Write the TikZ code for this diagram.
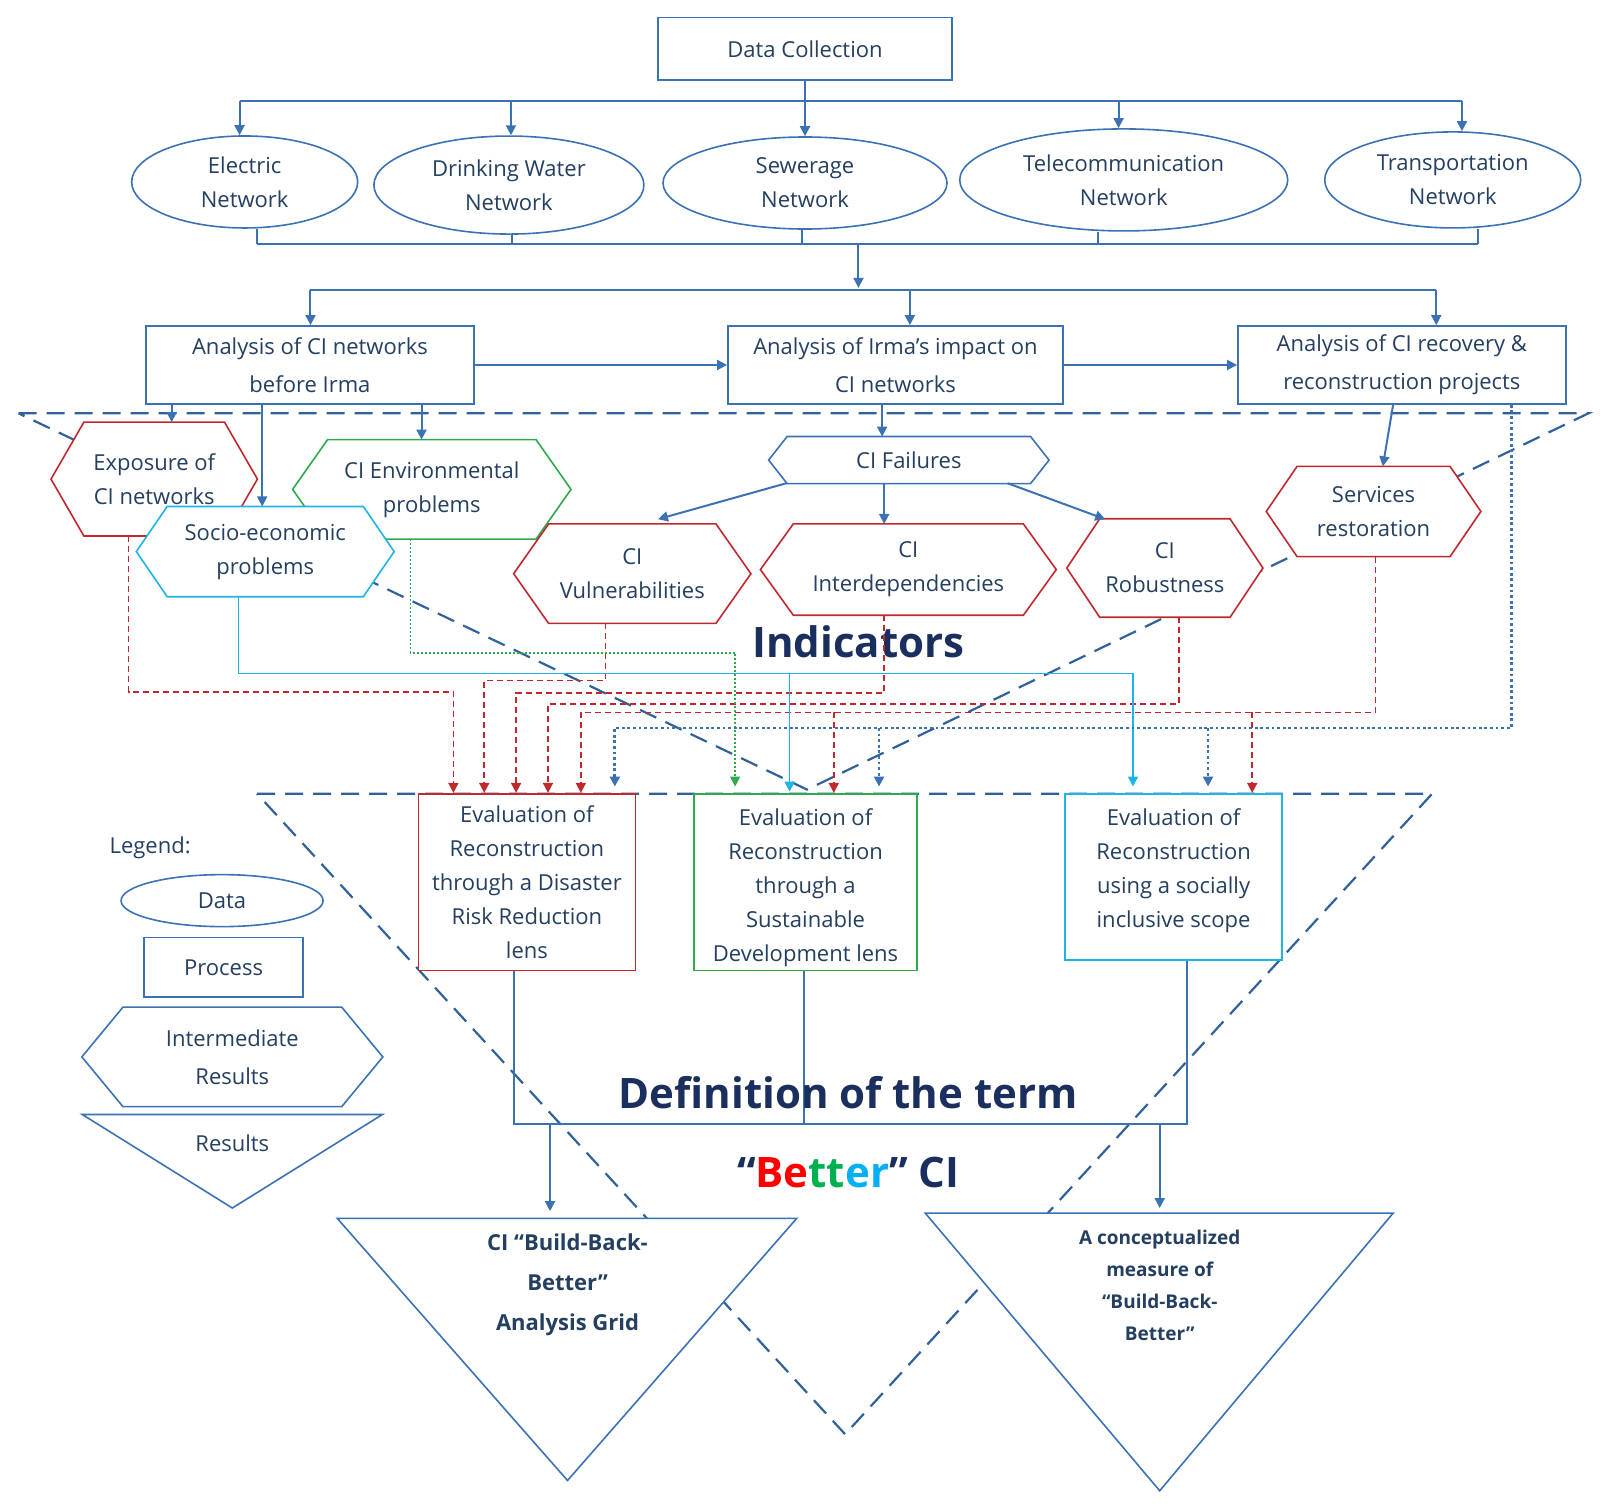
\documentclass[tikz,border=0pt]{standalone}
\usepackage{fontspec}
\setmainfont{Open Sans}
\usetikzlibrary{arrows.meta,calc,fit,shapes.geometric}
\definecolor{bl}{HTML}{3A72B4}
\definecolor{tx}{HTML}{243F60}
\definecolor{nv}{HTML}{1B2F5E}
\definecolor{rd}{HTML}{C0282D}
\definecolor{gn}{HTML}{2EAA4A}
\definecolor{cy}{HTML}{1EB4E6}
\definecolor{brd}{HTML}{FF0000}
\definecolor{bgn}{HTML}{00B050}
\definecolor{bcy}{HTML}{00B0F0}
\newcommand\hexa[3]{\draw[#2,line width=0.8pt,fill=white] (#1.west) -- ($(#1.north west)+(#3,0)$) -- ($(#1.north east)+(-#3,0)$) -- (#1.east) -- ($(#1.south east)+(-#3,0)$) -- ($(#1.south west)+(#3,0)$) -- cycle;}
\begin{document}
\begin{tikzpicture}[x=0.514pt,y=-0.514pt,
  every node/.style={text=tx,font=\fontsize{11}{17}\selectfont,align=center},
  two/.style={font=\fontsize{11}{19}\selectfont},
  box/.style={draw=bl,line width=0.8pt,fill=white,inner sep=0pt},
  ell/.style={ellipse,draw=bl,line width=0.8pt,fill=white,inner sep=0pt},
  hx/.style={inner sep=0pt},
  ln/.style={draw=bl,line width=1pt},
  ar/.style={ln,-{Triangle[length=5pt,width=5pt]}},
  rdash/.style={draw=rd,line width=0.8pt,dash pattern=on 3pt off 2pt,-{Triangle[length=5pt,width=5pt]}},
  bdot/.style={draw=bl,line width=1.4pt,dash pattern=on 1.4pt off 1.4pt,-{Triangle[length=5pt,width=5pt]}},
  big/.style={draw=bl!85!black,line width=1.1pt,dash pattern=on 9pt off 5pt},
  bigt/.style={font=\fontsize{21}{24}\selectfont\bfseries,text=nv}]
\useasboundingbox (0,0) rectangle (1565,1467);
% dashed triangles
\draw[big] (250,772) -- (1393,772) -- (822,1395) -- cycle;
\draw[big] (18,402) -- (1545,402) -- (785,768) -- cycle;
% top
\node[box,fit={(640,17)(926,78)}] (dc) {};
\node at (dc.center) {Data Collection};
\node[ell,minimum width=113pt,minimum height=46pt] (e1) at (238,177) {Electric\\Network};
\node[ell,minimum width=135pt,minimum height=49pt] (e2) at (495,180) {Drinking Water\\Network};
\node[ell,minimum width=142pt,minimum height=46pt] (e3) at (783,178) {Sewerage\\Network};
\node[ell,minimum width=164pt,minimum height=51pt] (e4) at (1093,175) {Telecommunication\\Network};
\node[ell,minimum width=128pt,minimum height=48pt] (e5) at (1413,175) {Transportation\\Network};
\coordinate (t0) at (783,98);
\draw[ln] (dc.south) -- (t0);
\draw[ln] (233,98) -- (1422,98);
\foreach \x/\n in {233/e1,497/e2,783/e3,1088/e4,1422/e5} \draw[ar] (\x,98) -- (\x,0 |- \n.north);
\foreach \x/\n in {250/e1,498/e2,780/e3,1068/e4,1438/e5} \draw[ln] (\x,0 |- \n.south) -- (\x,237);
\draw[ln] (250,237) -- (1438,237);
\draw[ar] (835,237) -- (835,280);
\draw[ln] (302,282) -- (1397,282);
% analysis
\node[box,fit={(142,317)(461,393)}] (a1) {};
\node[two] at (a1.center) {Analysis of CI networks\\before Irma};
\node[box,fit={(708,317)(1034,393)}] (a2) {};
\node[two] at (a2.center) {Analysis of Irma’s impact on\\CI networks};
\node[box,fit={(1204,317)(1523,393)}] (a3) {};
\node[two] at (a3.center) {Analysis of CI recovery \&\\reconstruction projects};
\draw[ar] (302,282) -- (a1.north -| 302,0);
\draw[ar] (885,282) -- (a2.north -| 885,0);
\draw[ar] (1397,282) -- (a3.north -| 1397,0);
\draw[ar] (a1.east) -- (a2.west);
\draw[ar] (a2.east) -- (a3.west);
% hexagons
\node[hx,fit={(50,411)(250,521)}] (ex) {};
\hexa{ex}{rd}{32}
\node at (ex) {Exposure of\\CI networks};
\node[hx,fit={(285,428)(555,524)}] (env) {};
\hexa{env}{gn}{34}
\node at (env) {CI Environmental\\problems};
\node[hx,fit={(133,493)(383,580)}] (soc) {};
\hexa{soc}{cy}{30}
\node at (soc) {Socio-economic\\problems};
\node[hx,fit={(748,425)(1020,470)}] (fail) {};
\hexa{fail}{bl}{18}
\node at (fail) {CI Failures};
\node[hx,fit={(500,510)(730,606)}] (vul) {};
\hexa{vul}{rd}{34}
\node at (vul) {CI\\Vulnerabilities};
\node[hx,fit={(740,510)(1027,598)}] (int) {};
\hexa{int}{rd}{32}
\node at (int) {CI\\Interdependencies};
\node[hx,fit={(1038,505)(1228,600)}] (rob) {};
\hexa{rob}{rd}{32}
\node at (rob) {CI\\Robustness};
\node[hx,fit={(1232,454)(1440,541)}] (ser) {};
\hexa{ser}{rd}{30}
\node at (ser) {Services\\restoration};
\draw[ar] (a1.south -| 167,0) -- (ex.north -| 167,0);
\draw[ar] (a1.south -| 255,0) -- (soc.north -| 255,0);
\draw[ar] (a1.south -| 410,0) -- (env.north -| 410,0);
\draw[ar] (a2.south -| 858,0) -- (fail.north -| 858,0);
\draw[ar] (a3.south -| 1355,0) -- (ser.north -| 1345,0);
\draw[ar] (765,470) -- (640,505);
\draw[ar] (fail.south -| 860,0) -- (int.north -| 860,0);
\draw[ar] (980,470) -- (1075,505);
\node[bigt] (ind) at (835,624) {Indicators};
% evaluation boxes
\node[box,draw=rd,fit={(407,772)(618,944)}] (ev1) {};
\node at (ev1.center) {Evaluation of\\Reconstruction\\through a Disaster\\Risk Reduction\\lens};
\node[box,draw=gn,fit={(675,772)(892,944)}] (ev2) {};
\node at ([yshift=-3pt]ev2.center) {Evaluation of\\Reconstruction\\through a\\Sustainable\\Development lens};
\node[box,draw=cy,fit={(1036,772)(1247,934)}] (ev3) {};
\node at ([yshift=3pt]ev3.center) {Evaluation of\\Reconstruction\\using a socially\\inclusive scope};
% connectors to evaluation
\draw[rdash] (ex.south -| 125,0) |- (441,673) -- (ev1.north -| 441,0);
\draw[rdash] (vul.south -| 589,0) |- (471,662) -- (ev1.north -| 471,0);
\draw[rdash] (int.south -| 860,0) |- (502,674) -- (ev1.north -| 502,0);
\draw[rdash] (rob.south -| 1147,0) |- (533,685) -- (ev1.north -| 533,0);
\draw[rdash] (ser.south -| 1338,0) |- (565,693) -- (ev1.north -| 565,0);
\draw[rdash] (811,693) -- (ev2.north -| 811,0);
\draw[rdash] (1218,693) -- (ev3.north -| 1218,0);
\draw[draw=cy,line width=0.8pt,-{Triangle[length=5pt,width=5pt]}] (soc.south -| 232,0) |- (1102,655) -- (1102,765);
\draw[draw=cy,line width=0.8pt,-{Triangle[length=5pt,width=5pt]}] (768,655) -- (768,770);
\draw[draw=gn,line width=0.7pt,dash pattern=on 1pt off 1pt,-{Triangle[length=5pt,width=5pt]}] (env.south -| 399,0) |- (715,635) -- (715,765);
\draw[bdot] (a3.south -| 1470,0) |- (598,708) -- (598,765);
\draw[bdot] (855,708) -- (855,765);
\draw[bdot] (1175,708) -- (1175,765);
% lower
\draw[ln] (ev1.south -| 500,0) -- (500,1093) -- (1155,1093) -- (ev3.south -| 1155,0);
\draw[ln] (ev2.south -| 782,0) -- (782,1093);
\node[bigt] (def) at (825,1063) {Definition of the term};
\node[bigt] (bet) at (825,1140) {“\textcolor{brd}{Be}\textcolor{bgn}{tt}\textcolor{bcy}{er}” CI};
\draw[draw=bl,line width=0.8pt,fill=white] (328,1185) -- (775,1185) -- (552,1440) -- cycle;
\draw[draw=bl,line width=0.8pt,fill=white] (900,1180) -- (1355,1180) -- (1128,1450) -- cycle;
\coordinate (r1) at (535,1178);
\coordinate (r2) at (1128,1175);
\draw[ar] (535,1093) -- (r1);
\draw[ar] (1128,1093) -- (r2);
\node[font=\fontsize{11}{20}\selectfont\bfseries] (res1) at (552,1250) {CI “Build-Back-\\Better”\\Analysis Grid};
\node[font=\fontsize{9.5}{16}\selectfont\bfseries] (res2) at (1128,1250) {A conceptualized\\measure of\\“Build-Back-\\Better”};
% legend
\node (lg) at (146,825) {Legend:};
\node[ell,minimum width=101pt,minimum height=26pt] (l1) at (216,876) {Data};
\node[box,fit={(140,912)(295,970)}] (l2) {};
\node at (l2.center) {Process};
\node[hx,fit={(80,980)(372,1076)}] (l3) {};
\hexa{l3}{bl}{40}
\node[two] at (l3) {Intermediate\\Results};
\draw[draw=bl,line width=0.8pt] (80,1084) -- (372,1084) -- (226,1175) -- cycle;
\node (l4) at (226,1112) {Results};
\end{tikzpicture}
\end{document}
